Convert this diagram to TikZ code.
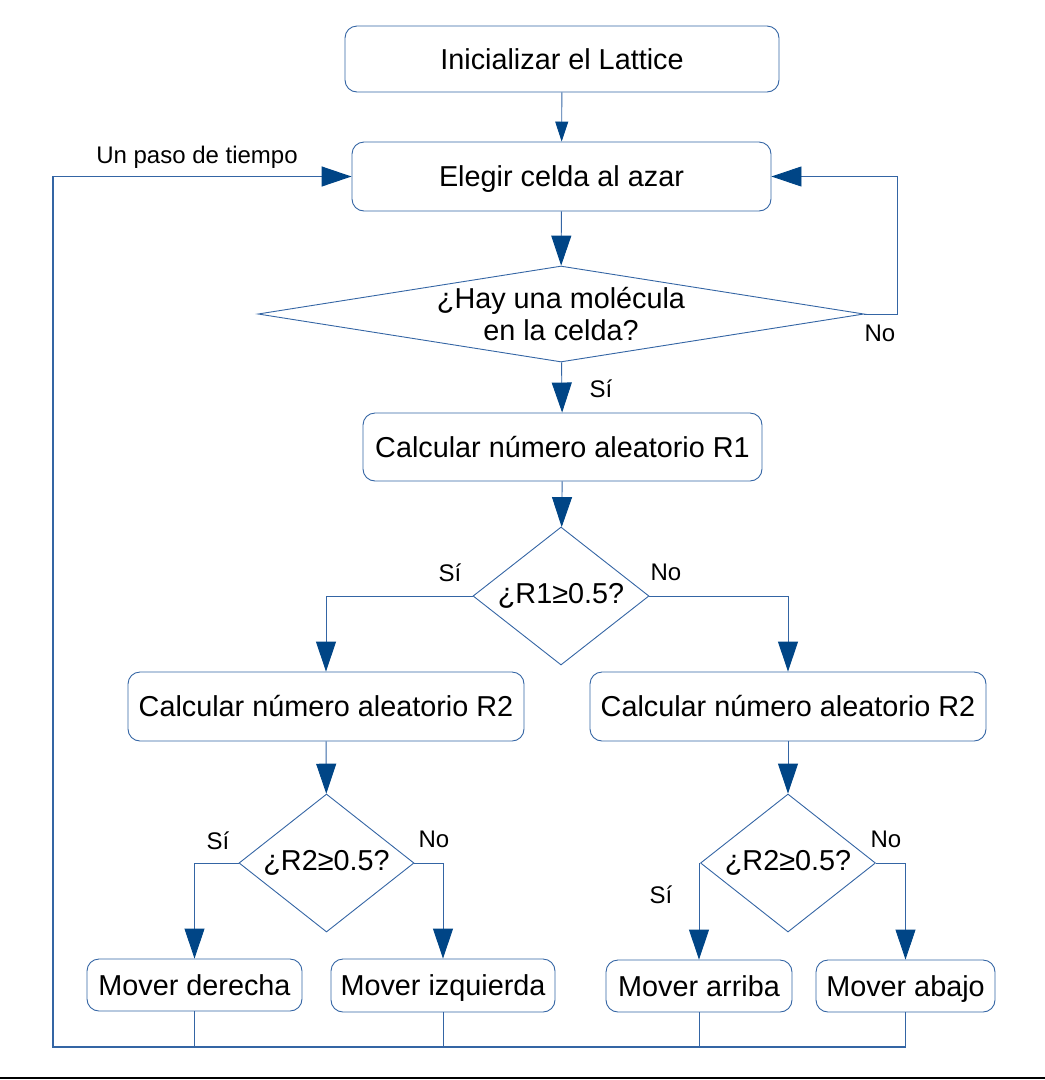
\documentclass[tikz,border=0pt]{standalone}
\usepackage{fontspec}
\setmainfont{Liberation Sans}
\usetikzlibrary{shapes.geometric,arrows.meta}
\definecolor{boxline}{HTML}{3465A4}
\definecolor{tipblue}{HTML}{004586}
\newcommand{\boxfont}{\fontsize{28.8}{32}\selectfont}
\newcommand{\tagfont}{\fontsize{24}{28}\selectfont}
\tikzset{
  stepbox/.style={draw=boxline,line width=0.9pt,rounded corners=12pt,inner sep=0pt,
    text height=20.6pt,text depth=0pt,font=\boxfont},
  decision/.style={draw=boxline,line width=0.9pt,diamond,inner sep=0pt},
  dtext/.style={font=\boxfont,align=center},
  flow/.style={draw=boxline,line width=0.9pt,-{Triangle[width=20pt,length=30pt,color=tipblue]}},
  link/.style={draw=boxline,line width=0.9pt},
  answer/.style={font=\tagfont,inner sep=0pt}
}
\begin{document}
\begin{tikzpicture}[x=1pt,y=-1pt]
  \useasboundingbox (0,0) rectangle (1045,1080);
  % boxes
  \node[stepbox,minimum width=434pt,minimum height=66pt] (init) at (562,59) {Inicializar el Lattice};
  \node[stepbox,minimum width=419pt,minimum height=69pt] (elegir) at (561.5,176.5) {Elegir celda al azar};
  \node[decision,minimum width=606pt,minimum height=96pt,
    label={[dtext]center:¿Hay una molécula\\en la celda?}] (hay) at (561,314) {};
  \node[stepbox,minimum width=399pt,minimum height=68pt] (calcA) at (562.5,447) {Calcular número aleatorio R1};
  \node[decision,minimum width=176pt,minimum height=138pt,
    label={[dtext]center:¿R1≥0.5?}] (rA) at (561,596) {};
  \node[stepbox,minimum width=396pt,minimum height=69pt] (calcB) at (326,706.5) {Calcular número aleatorio R2};
  \node[stepbox,minimum width=396pt,minimum height=69pt] (calcC) at (788,706.5) {Calcular número aleatorio R2};
  \node[decision,minimum width=175pt,minimum height=138pt,
    label={[dtext]center:¿R2≥0.5?}] (rB) at (326.5,863) {};
  \node[decision,minimum width=175pt,minimum height=138pt,
    label={[dtext]center:¿R2≥0.5?}] (rC) at (788,863) {};
  \node[stepbox,minimum width=215pt,minimum height=52pt] (derecha) at (194.5,985) {Mover derecha};
  \node[stepbox,minimum width=224pt,minimum height=53pt] (izquierda) at (443,985.5) {Mover izquierda};
  \node[stepbox,minimum width=186pt,minimum height=52pt] (arriba) at (699,986) {Mover arriba};
  \node[stepbox,minimum width=179pt,minimum height=52pt] (abajo) at (905.5,986) {Mover abajo};
  \coordinate (loop) at (53,1047);
  % arrows
  \draw[link,-{Triangle[width=13pt,length=20pt,color=tipblue]}] (init) -- (elegir);
  \draw[flow] (elegir) -- (hay);
  \draw[flow] (hay.east) -- ++(33,0) |- (elegir.east);
  \draw[flow] (hay) -- (calcA);
  \draw[flow] (calcA) -- (rA);
  \draw[flow] (rA.west) -| (calcB.north);
  \draw[flow] (rA.east) -| (calcC.north);
  \draw[flow] (calcB) -- (rB);
  \draw[flow] (calcC) -- (rC);
  \draw[flow] (rB.west) -| (derecha.north);
  \draw[flow] (rB.east) -| (izquierda.north);
  \draw[flow] (rC.west) -| (arriba.north);
  \draw[flow] (rC.east) -| (abajo.north);
  % back to the start
  \draw[link] (derecha.south) -- (derecha.south |- loop);
  \draw[link] (izquierda.south) -- (izquierda.south |- loop);
  \draw[link] (arriba.south) -- (arriba.south |- loop);
  \draw[flow,line width=1.3pt] (abajo.south) |- (loop) |- (elegir.west);
  % labels
  \node[answer] (tiempo) at (197,157) {Un paso de tiempo};
  \node[answer] (hayno) at (880,333) {No};
  \node[answer] (haysi) at (601,389) {Sí};
  \node[answer] (rAsi) at (450,573) {Sí};
  \node[answer] (rAno) at (666,572) {No};
  \node[answer] (rBsi) at (218,841) {Sí};
  \node[answer] (rBno) at (434,839) {No};
  \node[answer] (rCsi) at (661,895) {Sí};
  \node[answer] (rCno) at (886,839) {No};
  \draw[line width=1.5pt] (0,1078) -- (1045,1078);
\end{tikzpicture}
\end{document}
